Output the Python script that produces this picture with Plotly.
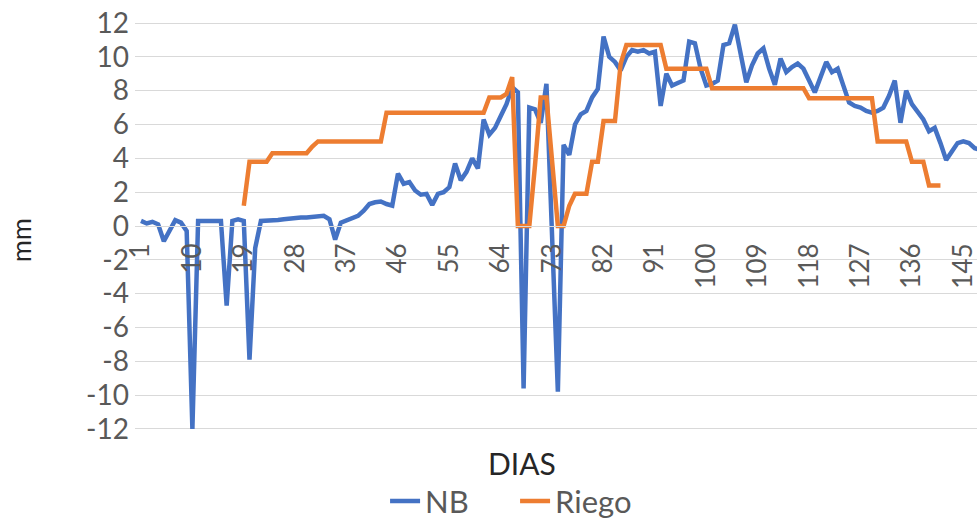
import plotly.graph_objects as go

dias = list(range(1, 149))

nb = [0.3, 0.15, 0.25, 0.1, -0.9, -0.3, 0.35, 0.2, -0.3, -12,
      0.3, 0.3, 0.3, 0.3, 0.3, -4.7, 0.3, 0.4, 0.3, -7.9,
      -1.3, 0.3, 0.3, 0.35, 0.35, 0.4, 0.45, 0.45, 0.5, 0.5,
      0.55, 0.6, 0.6, 0.4, -0.8, 0.2, 0.35, 0.45, 0.6, 0.9,
      1.3, 1.4, 1.45, 1.3, 1.2, 3.1, 2.5, 2.6, 2.1, 1.85,
      1.9, 1.25, 1.9, 2.0, 2.3, 3.7, 2.7, 3.2, 4.0, 3.4,
      6.3, 5.4, 5.8, 6.5, 7.2, 8.2, 7.9, -9.6, 7.0, 6.9,
      6.1, 8.4, -0.5, -9.8, 4.8, 4.2, 6.0, 6.6, 6.8, 7.6,
      8.1, 11.2, 10.0, 9.7, 9.2, 10.0, 10.4, 10.3, 10.4, 10.2,
      10.3, 7.1, 9.0, 8.3, 8.45, 8.6, 10.9, 10.8, 9.3, 8.3,
      8.4, 8.6, 10.7, 10.8, 11.9, 10.2, 8.5, 9.5, 10.2, 10.5,
      9.3, 8.35, 9.9, 9.1, 9.4, 9.6, 9.3, 8.6, 7.9, 8.8,
      9.7, 9.1, 9.3, 8.3, 7.3, 7.1, 7.0, 6.8, 6.7, 6.8,
      7.0, 7.7, 8.6, 6.1, 8.0, 7.2, 6.8, 6.3, 5.6, 5.8,
      4.9, 3.9, 4.4, 4.9, 5.0, 4.9, 4.6, 4.5]

riego = [None] * 18 + [
    1.2, 3.8, 3.8, 3.8, 3.8,
    4.3, 4.3, 4.3, 4.3, 4.3, 4.3, 4.3, 4.7,
    5.0, 5.0, 5.0, 5.0, 5.0, 5.0, 5.0, 5.0, 5.0, 5.0, 5.0, 5.0,
    6.7, 6.7, 6.7, 6.7, 6.7, 6.7, 6.7, 6.7, 6.7, 6.7, 6.7, 6.7, 6.7, 6.7, 6.7, 6.7, 6.7, 6.7,
    7.6, 7.6, 7.6, 7.8, 8.8,
    0, 0, 0, 3.6, 7.6, 7.6, 3.8, 0, 0,
    1.2, 1.9, 1.9, 1.9, 3.8, 3.8, 6.2, 6.2, 6.2, 9.6,
    10.7, 10.7, 10.7, 10.7, 10.7, 10.7, 10.7,
    9.3, 9.3, 9.3, 9.3, 9.3, 9.3, 9.3, 9.3,
    8.15, 8.15, 8.15, 8.15, 8.15, 8.15, 8.15, 8.15, 8.15, 8.15, 8.15, 8.15, 8.15, 8.15, 8.15, 8.15, 8.15,
    7.55, 7.55, 7.55, 7.55, 7.55, 7.55, 7.55, 7.55, 7.55, 7.55, 7.55, 7.55,
    5.0, 5.0, 5.0, 5.0, 5.0, 5.0,
    3.8, 3.8, 3.8,
    2.4, 2.4, 2.4] + [None] * 7

x_ticks = list(range(1, 149, 9))
x_ticktext = [str(v) for v in x_ticks]
y_ticks = list(range(-12, 13, 2))
y_ticktext = [str(v) for v in y_ticks]

FONT = "Lato, Carlito, 'Open Sans', sans-serif"
GRAY = "#595959"

fig = go.Figure()
fig.add_trace(go.Scatter(x=dias, y=nb, mode="lines", name="NB",
                         line=dict(color="#4472C4", width=4.5)))
fig.add_trace(go.Scatter(x=dias, y=riego, mode="lines", name="Riego",
                         line=dict(color="#ED7D31", width=4.5)))

fig.update_layout(
    template="none",
    width=977, height=523,
    margin=dict(l=135, r=0, t=22, b=93, autoexpand=False),
    paper_bgcolor="white", plot_bgcolor="white",
    font=dict(family=FONT, color=GRAY),
    showlegend=True,
    legend=dict(orientation="h", x=0.297, xanchor="left", y=-0.175, yanchor="middle",
                font=dict(size=31, color=GRAY), entrywidth=85, entrywidthmode="pixels",
                bgcolor="rgba(0,0,0,0)"),
    xaxis=dict(range=[-0.05, 147.4], tickmode="array", tickvals=x_ticks, ticktext=x_ticktext,
               tickangle=-90, anchor="free", position=0.5, showgrid=False, automargin=False,
               showline=True, linecolor="#d9d9d9", linewidth=1, zeroline=False, ticks="",
               ticklabelstandoff=6, ticklabeloverflow="allow",
               tickfont=dict(size=26, color=GRAY, family=FONT)),
    yaxis=dict(range=[-12.06, 12.06], tickmode="array", tickvals=y_ticks, ticktext=y_ticktext,
               automargin=False, ticklabeloverflow="allow", ticklabelstandoff=5,
               showgrid=True, gridcolor="#d9d9d9", gridwidth=1, zeroline=False, ticks="",
               showline=False, tickfont=dict(size=28, color=GRAY, family=FONT)),
    annotations=[
        dict(text="DIAS", x=0.46, y=-0.081, xref="paper", yref="paper",
             showarrow=False, font=dict(size=30, color="#262626", family=FONT),
             xanchor="center", yanchor="middle"),
        dict(text="mm", x=-0.136, y=0.466, xref="paper", yref="paper", textangle=-90,
             showarrow=False, font=dict(size=27, color="#262626", family=FONT),
             xanchor="center", yanchor="middle"),
    ],
)

fig.write_html("out.html", config={"displayModeBar": False},
               post_script="document.body.style.margin='0px';")
